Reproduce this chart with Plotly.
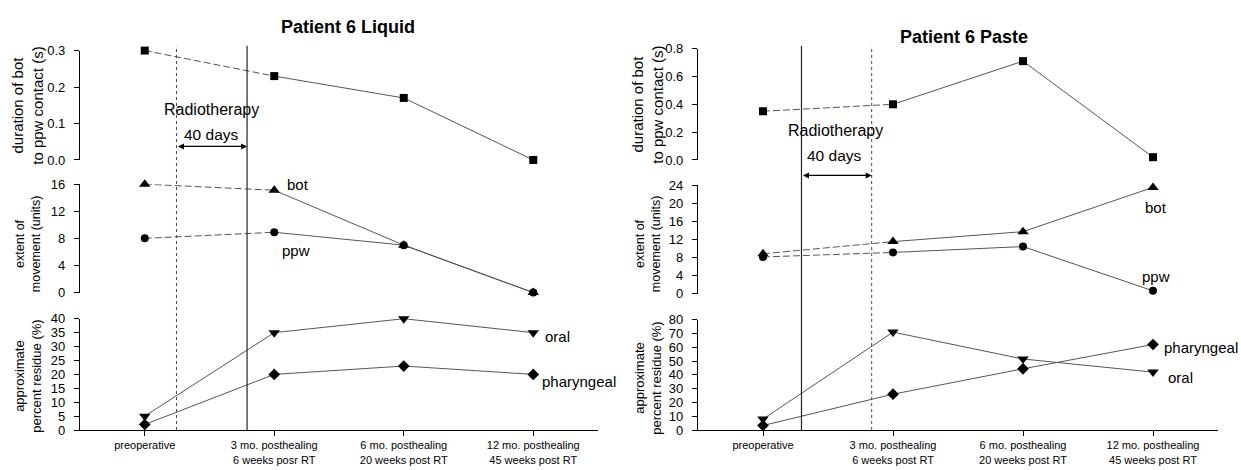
import plotly.graph_objects as go

W, H = 1241, 470
FONT = "Liberation Sans, Arial, sans-serif"
LINE = "#555555"

# ---------------- data ----------------
stage_pos = [0, 1, 2, 3]
stage_line1 = ["preoperative", "3 mo. posthealing", "6 mo. posthealing", "12 mo. posthealing"]
liquid_line2 = ["", "6 weeks posr RT", "20 weeks post RT", "45 weeks post RT"]
paste_line2 = ["", "6 weeks post RT", "20 weeks post RT", "45 weeks post RT"]

liquid_duration = [0.30, 0.23, 0.17, 0.00]
liquid_bot = [16, 15.1, 7, 0]
liquid_ppw = [8, 8.9, 7, 0]
liquid_oral = [5, 35, 40, 35]
liquid_pharyngeal = [2, 20, 23, 20]

paste_duration = [0.35, 0.40, 0.71, 0.02]
paste_bot = [8.8, 11.5, 13.7, 23.5]
paste_ppw = [8.1, 9.1, 10.4, 0.6]
paste_oral = [8, 71, 51.5, 42]
paste_pharyngeal = [3.3, 26, 44.4, 62]

liquid_duration_ticks = [0.0, 0.1, 0.2, 0.3]
liquid_movement_ticks = [0, 4, 8, 12, 16]
liquid_residue_ticks = [0, 5, 10, 15, 20, 25, 30, 35, 40]
paste_duration_ticks = [0.0, 0.2, 0.4, 0.6, 0.8]
paste_movement_ticks = [0, 4, 8, 12, 16, 20, 24]
paste_residue_ticks = [0, 10, 20, 30, 40, 50, 60, 70, 80]

# radiotherapy period (in stage units) for each panel
liquid_rt = (0.245, 0.79)
paste_rt = (0.296, 0.836)


def hx(p):
    return p / W


def vy(p):
    return 1 - p / H


fig = go.Figure()
layout = {}
annotations = []
shapes = []


def axname(kind, i):
    return kind if i == 1 else f"{kind}{i}"


def add_series(i, ys, symbol, size, dashed_first):
    xa, ya = axname("x", i), axname("y", i)
    if dashed_first:
        fig.add_trace(go.Scatter(x=stage_pos[:2], y=ys[:2], mode="lines",
                                 line=dict(color=LINE, width=1, dash="7px,3px"),
                                 xaxis=xa, yaxis=ya, cliponaxis=False, showlegend=False))
        fig.add_trace(go.Scatter(x=stage_pos[1:], y=ys[1:], mode="lines",
                                 line=dict(color=LINE, width=1),
                                 xaxis=xa, yaxis=ya, cliponaxis=False, showlegend=False))
    else:
        fig.add_trace(go.Scatter(x=stage_pos, y=ys, mode="lines",
                                 line=dict(color=LINE, width=1),
                                 xaxis=xa, yaxis=ya, cliponaxis=False, showlegend=False))
    fig.add_trace(go.Scatter(x=stage_pos, y=ys, mode="markers",
                             marker=dict(symbol=symbol, size=size, color="black",
                                         line=dict(width=0)),
                             xaxis=xa, yaxis=ya, cliponaxis=False, showlegend=False))


panels = [
    dict(first=1, xpx=(80, 598),
         rows=[(45, 158, [0, 0.3], liquid_duration_ticks, ["0.0", "0.1", "0.2", "0.3"]),
               (183, 295, [0, 16], liquid_movement_ticks, None),
               (322, 437, [0, 40], liquid_residue_ticks, None)],
         series=[[(liquid_duration, "square", 8)],
                 [(liquid_bot, "triangle-up", 10), (liquid_ppw, "circle", 8)],
                 [(liquid_oral, "triangle-down", 10), (liquid_pharyngeal, "diamond", 9)]],
         line2=liquid_line2, rt=liquid_rt, rt_dash=("dot", "solid"),
         title="Patient 6 Liquid", title_xy=(348, 21),
         radio_xy=(211, 106), days_xy=(211, 132), arrow_y=144,
         ytitle_x=28, ytitle_y=(102, 245, 382),
         labels=[("bot", 298, 183, "center"), ("ppw", 296, 252, "center"),
                 ("oral", 543, 340, "left"), ("pharyngeal", 540, 387, "left")]),
    dict(first=4, xpx=(698, 1218),
         rows=[(43, 158, [0, 0.8], paste_duration_ticks, ["0.0", "0.2", "0.4", "0.6", "0.8"]),
               (184, 296, [0, 24], paste_movement_ticks, None),
               (323, 437, [0, 80], paste_residue_ticks, None)],
         series=[[(paste_duration, "square", 8)],
                 [(paste_bot, "triangle-up", 10), (paste_ppw, "circle", 8)],
                 [(paste_oral, "triangle-down", 10), (paste_pharyngeal, "diamond", 9)]],
         line2=paste_line2, rt=paste_rt, rt_dash=("solid", "dot"),
         title="Patient 6 Paste", title_xy=(964, 31),
         radio_xy=(835, 128), days_xy=(834, 153), arrow_y=174,
         ytitle_x=648, ytitle_y=(101, 245, 384),
         labels=[("bot", 1156, 207, "center"), ("ppw", 1156, 278, "center"),
                 ("pharyngeal", 1162, 352, "left"), ("oral", 1166, 383, "left")]),
]

ytitles = [("duration of bot<br>to ppw contact (s)", 15),
           ("extent of<br>movement (units)", 12.5),
           ("approximate<br>percent residue (%)", 13)]

for p in panels:
    xlabels = [a + ("<br>" + b if b else "") for a, b in zip(stage_line1, p["line2"])]
    for r, (ytop, ybot, yr, ticks, ticktext) in enumerate(p["rows"]):
        i = p["first"] + r
        is_bottom = r == 2
        xkey = "xaxis" if i == 1 else f"xaxis{i}"
        ykey = "yaxis" if i == 1 else f"yaxis{i}"
        xa = dict(domain=[hx(p["xpx"][0]), hx(p["xpx"][1])], range=[-0.5, 3.5],
                  anchor=axname("y", i), showgrid=False, zeroline=False,
                  fixedrange=True)
        if is_bottom:
            xa.update(showline=True, linecolor="black", linewidth=1.2,
                      ticks="outside", ticklen=5, tickwidth=1, tickcolor="black",
                      tickvals=stage_pos, ticktext=xlabels, ticklabelstandoff=0,
                      tickfont=dict(family=FONT, size=11, color="black"))
        else:
            xa.update(visible=False)
        ya = dict(domain=[vy(ybot), vy(ytop)], range=yr, anchor=axname("x", i),
                  showgrid=False, zeroline=False, showline=True, linecolor="black",
                  linewidth=1.2, ticks="outside", ticklen=5, tickwidth=1,
                  tickcolor="black", tickvals=ticks, ticklabelstandoff=6,
                  tickfont=dict(family=FONT, size=13, color="black"), fixedrange=True)
        if ticktext is not None:
            ya["ticktext"] = ticktext
        layout[xkey] = xa
        layout[ykey] = ya

        for ys, sym, size in p["series"][r]:
            add_series(i, ys, sym, size, dashed_first=(r < 2))

        # y-axis titles
        annotations.append(dict(text=ytitles[r][0], xref="paper", yref="paper",
                                x=hx(p["ytitle_x"]), y=vy(p["ytitle_y"][r]),
                                xanchor="center", yanchor="middle", textangle=-90,
                                showarrow=False, align="center",
                                font=dict(family=FONT, size=ytitles[r][1], color="black")))

    # radiotherapy boundaries
    tx = axname("x", p["first"])
    for xv, dash in zip(p["rt"], p["rt_dash"]):
        shapes.append(dict(type="line", xref=tx, yref="paper", x0=xv, x1=xv,
                           y0=vy(437), y1=vy(40),
                           line=dict(color="#222222" if dash == "solid" else "#444444",
                                     width=1.2 if dash == "solid" else 1, dash=dash)))
    # double-headed arrow
    annotations.append(dict(text="", xref=tx, yref="paper", x=p["rt"][1], y=vy(p["arrow_y"]),
                            axref=tx, ayref="pixel", ax=p["rt"][0], ay=0,
                            showarrow=True, arrowhead=2, arrowsize=1, arrowwidth=1.2,
                            arrowside="end+start", arrowcolor="black", standoff=0,
                            startstandoff=0))
    annotations.append(dict(text="Radiotherapy", xref="paper", yref="paper",
                            x=hx(p["radio_xy"][0]), y=vy(p["radio_xy"][1]),
                            xanchor="center", yanchor="middle", showarrow=False,
                            font=dict(family=FONT, size=16, color="black")))
    annotations.append(dict(text="40 days", xref="paper", yref="paper",
                            x=hx(p["days_xy"][0]), y=vy(p["days_xy"][1]),
                            xanchor="center", yanchor="middle", showarrow=False,
                            font=dict(family=FONT, size=15.5, color="black")))
    annotations.append(dict(text="<b>" + p["title"] + "</b>", xref="paper", yref="paper",
                            x=hx(p["title_xy"][0]), y=vy(p["title_xy"][1]),
                            xanchor="center", yanchor="middle", showarrow=False,
                            font=dict(family=FONT, size=18, color="black")))
    for txt, lx, ly, anc in p["labels"]:
        annotations.append(dict(text=txt, xref="paper", yref="paper", x=hx(lx), y=vy(ly),
                                xanchor=anc, yanchor="middle", showarrow=False,
                                font=dict(family=FONT, size=15, color="black")))

fig.update_layout(
    width=W, height=H, autosize=False,
    margin=dict(l=0, r=0, t=0, b=0, pad=0),
    paper_bgcolor="white", plot_bgcolor="rgba(0,0,0,0)",
    showlegend=False,
    font=dict(family=FONT, color="black"),
    annotations=annotations, shapes=shapes,
    **layout,
)

fig.write_html("out.html", config={"displayModeBar": False},
               post_script="document.body.style.margin='0';document.body.style.overflow='hidden';")
